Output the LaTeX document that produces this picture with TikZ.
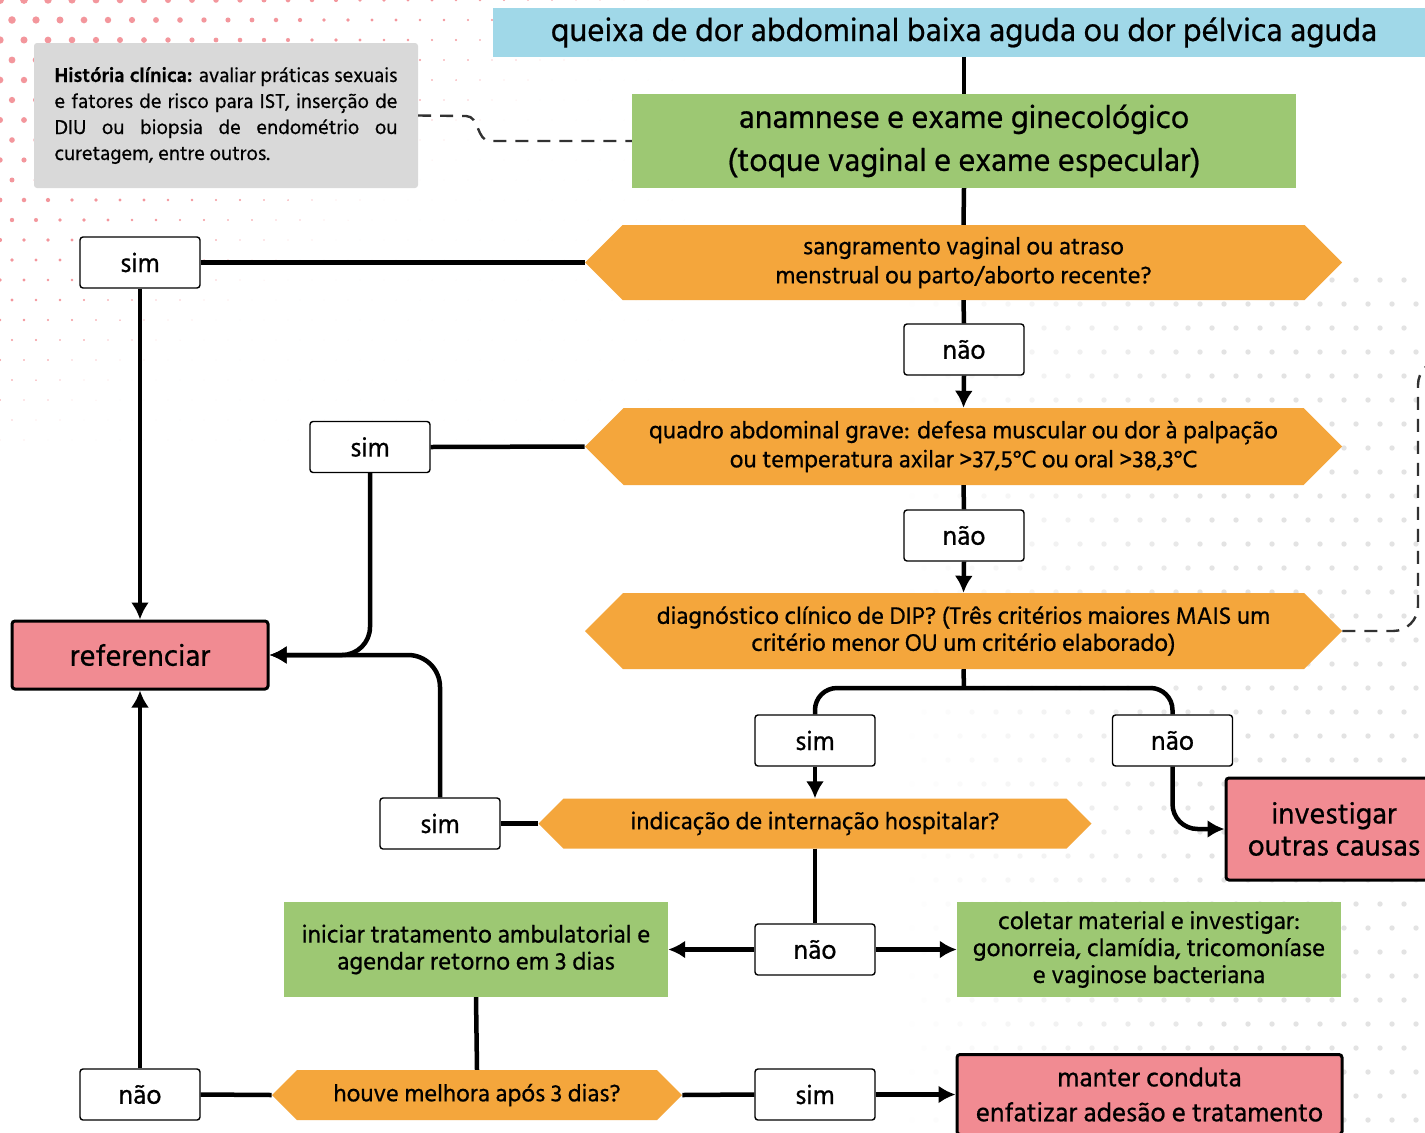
\documentclass[tikz,border=0pt]{standalone}
\usepackage{fontspec}
\setmainfont{Hind Siliguri}[FakeBold=0.6]
\usetikzlibrary{shapes.symbols}
\usetikzlibrary{arrows.meta}

\definecolor{titlecyan}{RGB}{160,216,232}
\definecolor{boxgreen}{RGB}{157,200,115}
\definecolor{hexorange}{RGB}{244,166,60}
\definecolor{boxpink}{RGB}{241,139,146}
\definecolor{histgrey}{RGB}{217,217,217}
\definecolor{dotpink}{RGB}{243,150,156}
\definecolor{dashgrey}{RGB}{50,50,50}

\tikzset{
  conn/.style={line width=4.5pt},
  arr/.style={line width=4.5pt, -{Latex[length=17pt,width=18pt]}},
  dashlink/.style={line width=2.4pt, draw=dashgrey, dash pattern=on 13pt off 9pt},
  lbl/.style={draw, line width=1.4pt, fill=white, rounded corners=3pt, minimum width=120pt, minimum height=51pt, inner sep=0pt, font=\fontsize{27}{30}\selectfont},
  greenbox/.style={fill=boxgreen, inner sep=0pt, align=center},
  pinkbox/.style={fill=boxpink, draw, line width=3pt, rounded corners=3pt, inner sep=0pt, align=center},
  hexbox/.style={signal, signal to=east and west, signal pointer angle=90, fill=hexorange, inner sep=0pt, align=center, font=\fontsize{24.5}{29}\selectfont}
}

\begin{document}
\begin{tikzpicture}[x=1pt,y=-1pt]
\clip (0,0) rectangle (1425,1133);
\fill[white] (0,0) rectangle (1425,1133);

% background dots
\foreach \i in {0,...,28}
  \foreach \j in {0,...,22} {
    \pgfmathsetmacro\px{\i*24 + mod(\j,2)*12}
    \pgfmathsetmacro\py{\j*20}
    \pgfmathsetmacro\rr{max(0.01, 4.0 - (\px + 1.4*\py)/175)}
    \fill[dotpink] (\px,\py) circle[radius=\rr];
  }
\foreach \i in {0,...,22}
  \foreach \j in {0,...,36} {
    \pgfmathsetmacro\px{900 + \i*24 + mod(\j,2)*12}
    \pgfmathsetmacro\py{280 + \j*24}
    \pgfmathsetmacro\gg{min(11, max(0, (\px - 900)/30))}
    \fill[black!\gg] (\px,\py) circle[radius=2.7];
  }

% boxes
\node[fill=titlecyan, minimum width=942pt, minimum height=49pt, inner sep=0pt,
  font=\fontsize{33}{36}\selectfont] (title) at (964,32.5)
  {queixa de dor abdominal baixa aguda ou dor pélvica aguda};
\node[fill=histgrey, rounded corners=3pt, minimum width=384pt, minimum height=145pt,
  inner sep=0pt, text width=343pt, align=justify, font=\fontsize{20.5}{26}\selectfont] (hist) at (226,115.5)
  {\textbf{História clínica:} avaliar práticas sexuais\linebreak e fatores de risco para IST, inserção de\linebreak DIU ou biopsia de endométrio ou\linebreak curetagem, entre outros.};
\node[greenbox, minimum width=664pt, minimum height=94pt, font=\fontsize{32.5}{43}\selectfont] (anam) at (964,141)
  {anamnese e exame ginecológico\\(toque vaginal e exame especular)};

\node[hexbox, minimum width=757pt, minimum height=75pt] (q1) at (963.5,262.5)
  {sangramento vaginal ou atraso\\menstrual ou parto/aborto recente?};
\node[hexbox, minimum width=757pt, minimum height=77pt] (q2) at (963.5,446.5)
  {quadro abdominal grave: defesa muscular ou dor à palpação\\ou temperatura axilar >37,5°C ou oral >38,3°C};
\node[hexbox, minimum width=757pt, minimum height=76pt, font=\fontsize{24.5}{27}\selectfont] (q3) at (963.5,631)
  {diagnóstico clínico de DIP? (Três critérios maiores MAIS um\\critério menor OU um critério elaborado)};
\node[hexbox, minimum width=553pt, minimum height=50pt] (q4) at (815,823.5)
  {indicação de internação hospitalar?};
\node[hexbox, minimum width=410pt, minimum height=50pt] (q5) at (477,1095)
  {houve melhora após 3 dias?};

\node[pinkbox, minimum width=256pt, minimum height=68pt, font=\fontsize{30.5}{32}\selectfont] (ref) at (140,655) {referenciar};
\node[pinkbox, minimum width=216pt, minimum height=102pt, font=\fontsize{30}{32}\selectfont] (invest) at (1334,829)
  {investigar\\outras causas};
\node[pinkbox, minimum width=385pt, minimum height=80pt, font=\fontsize{27}{35}\selectfont] (keep) at (1149.5,1094.5)
  {manter conduta\\enfatizar adesão e tratamento};

\node[greenbox, minimum width=384pt, minimum height=95pt, font=\fontsize{25}{27}\selectfont] (treat) at (476,949.5)
  {iniciar tratamento ambulatorial e\\agendar retorno em 3 dias};
\node[greenbox, minimum width=384pt, minimum height=95pt, font=\fontsize{25}{27}\selectfont] (collect) at (1149,949.5)
  {coletar material e investigar:\\gonorreia, clamídia, tricomoníase\\e vaginose bacteriana};

% answer labels
\node[lbl] (sim1) at (140,262.5) {sim};
\node[lbl] (nao1) at (964,349.5) {não};
\node[lbl] (sim2) at (370,447) {sim};
\node[lbl] (nao2) at (964,535.5) {não};
\node[lbl] (sim3) at (815,740.5) {sim};
\node[lbl] (nao3) at (1172.5,740.5) {não};
\node[lbl] (sim4) at (440,823.5) {sim};
\node[lbl] (nao4) at (815,949.5) {não};
\node[lbl] (nao5) at (140,1094.5) {não};
\node[lbl] (sim5) at (815,1094.5) {sim};
\coordinate (split) at (964,688);

% connectors
\draw[conn] (title.south) -- (anam.north);
\draw[conn] (anam.south) -- (q1.north);
\draw[dashlink] (hist.east) -- (466,116) to[out=0,in=180] (490,141) -- (anam.west);
\draw[conn] (q1.west) -- (sim1.east);
\draw[arr] (sim1.south) -- (ref.north);
\draw[conn] (q1.south) -- (nao1.north);
\draw[arr] (nao1.south) -- (q2.north);
\draw[conn] (q2.west) -- (sim2.east);
\draw[arr, rounded corners=28pt] (sim2.south) |- (ref.east);
\draw[conn] (q2.south) -- (nao2.north);
\draw[arr] (nao2.south) -- (q3.north);
\draw[dashlink, rounded corners=25pt] (q3.east) -| (1418,360) -- (1450,360);
\draw[conn] (q3.south) -- (split);
\draw[conn, rounded corners=22pt] (sim3.north) |- (split) -| (nao3.north);
\draw[arr] (sim3.south) -- (q4.north);
\draw[arr, rounded corners=25pt] (nao3.south) |- (invest.west);
\draw[conn] (q4.west) -- (sim4.east);
\draw[arr, rounded corners=32pt] (sim4.north) |- (ref.east);
\draw[conn] (q4.south) -- (nao4.north);
\draw[arr] (nao4.west) -- (treat.east);
\draw[arr] (nao4.east) -- (collect.west);
\draw[conn] (treat.south) -- (q5.north);
\draw[conn] (q5.west) -- (nao5.east);
\draw[arr] (nao5.north) -- (ref.south);
\draw[conn] (q5.east) -- (sim5.west);
\draw[arr] (sim5.east) -- (keep.west);
\end{tikzpicture}
\end{document}
